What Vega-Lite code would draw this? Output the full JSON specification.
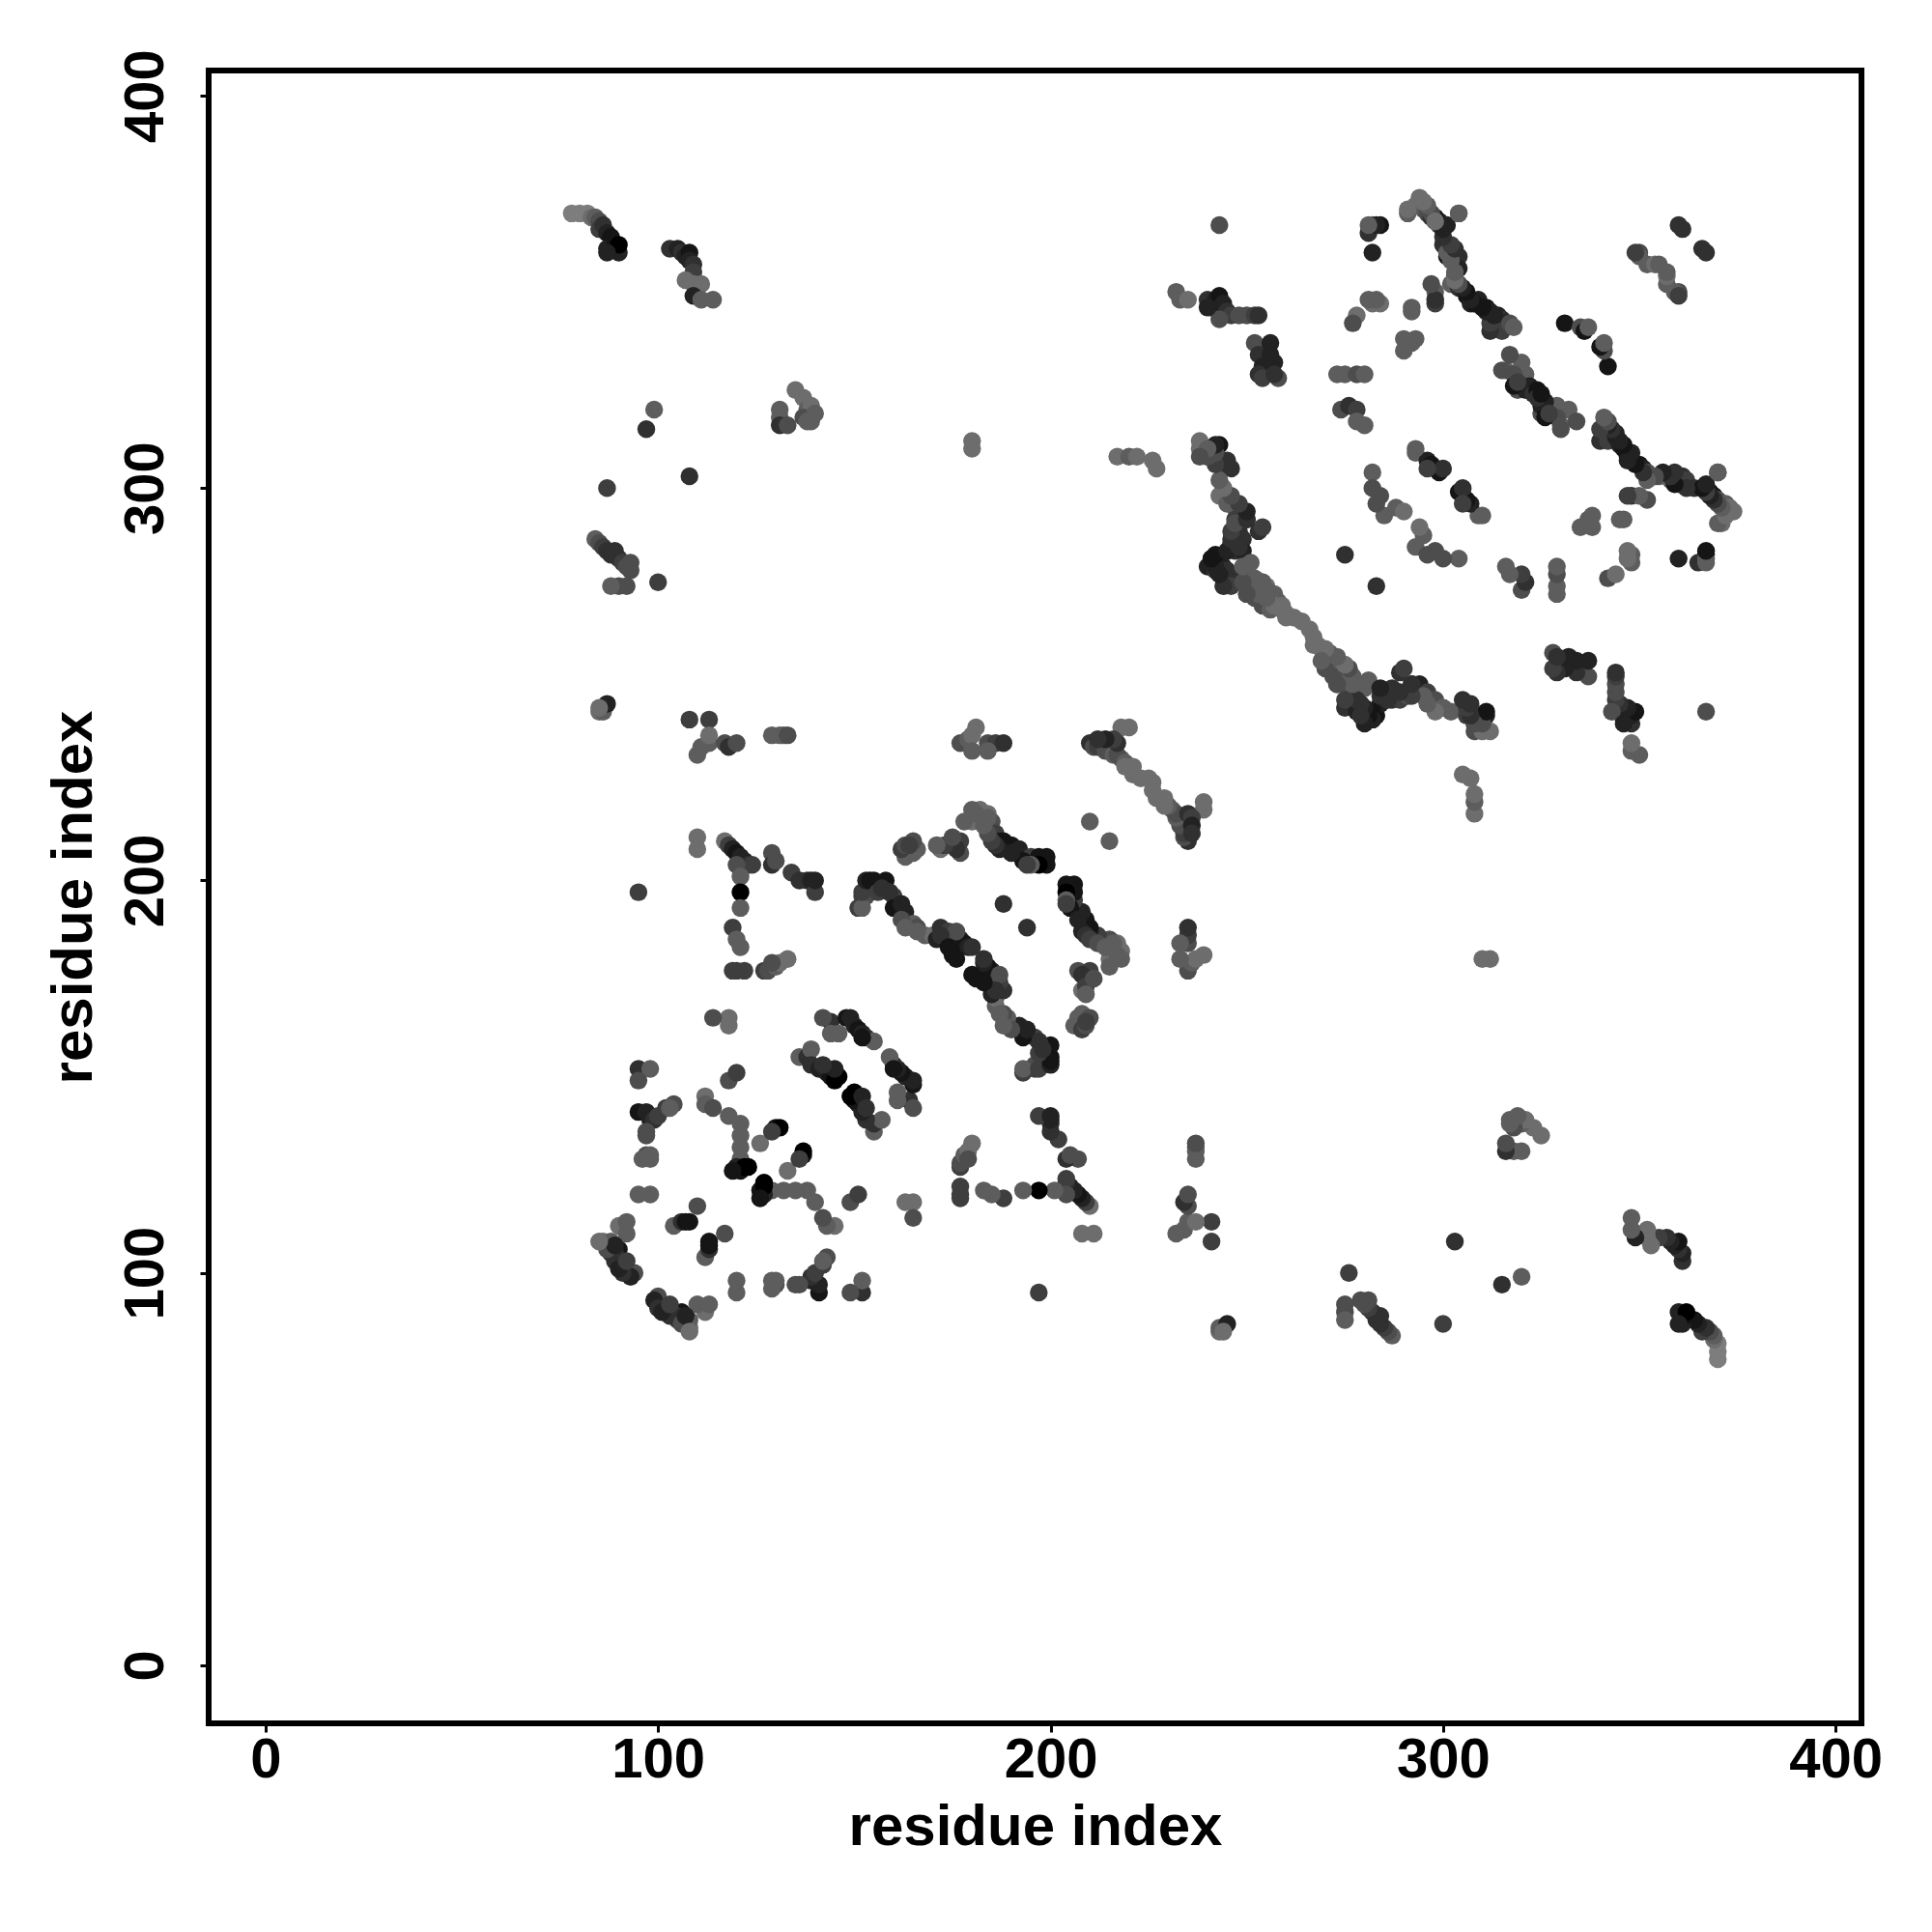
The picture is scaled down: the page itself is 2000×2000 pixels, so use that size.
{"$schema":"https://vega.github.io/schema/vega-lite/v6.json","autosize":{"type":"none"},"padding":{"left":216,"top":73,"right":73,"bottom":216},"width":1711,"height":1711,"background":"white","config":{"view":{"stroke":"#000","strokeWidth":6},"font":"Liberation Sans"},
"data":{"values":[
{"a":78,"b":370,"s":8},{"a":80,"b":370,"s":8},{"a":82,"b":370,"s":8},{"a":83,"b":369,"s":7},{"a":84,"b":369,"s":6},{"a":85,"b":368,"s":5},{"a":85,"b":366,"s":4},{"a":86,"b":367,"s":3},{"a":87,"b":365,"s":2},{"a":88,"b":364,"s":1},{"a":87,"b":361,"s":2},{"a":89,"b":362,"s":1},{"a":90,"b":360,"s":2},{"a":90,"b":362,"s":0},{"a":87,"b":360,"s":2},
{"a":103,"b":361,"s":3},{"a":105,"b":361,"s":2},{"a":106,"b":360,"s":3},{"a":107,"b":359,"s":2},{"a":108,"b":360,"s":1},{"a":108,"b":358,"s":2},{"a":109,"b":357,"s":3},{"a":109,"b":355,"s":4},{"a":107,"b":353,"s":7},{"a":109,"b":352,"s":7},{"a":111,"b":352,"s":7},{"a":109,"b":349,"s":2},{"a":111,"b":348,"s":6},{"a":114,"b":348,"s":6},
{"a":97,"b":315,"s":3},{"a":99,"b":320,"s":6},{"a":108,"b":303,"s":3},
{"a":131,"b":320,"s":6},{"a":131,"b":318,"s":6},{"a":131,"b":316,"s":3},{"a":133,"b":316,"s":5},{"a":135,"b":325,"s":7},{"a":137,"b":323,"s":7},{"a":138,"b":320,"s":6},{"a":139,"b":321,"s":7},{"a":137,"b":318,"s":5},{"a":139,"b":317,"s":6},{"a":140,"b":319,"s":6},{"a":138,"b":317,"s":6},
{"a":180,"b":310,"s":7},{"a":180,"b":312,"s":7},{"a":217,"b":308,"s":7},{"a":220,"b":308,"s":6},{"a":222,"b":308,"s":7},{"a":226,"b":307,"s":7},{"a":227,"b":305,"s":7},{"a":87,"b":300,"s":4},
{"a":84,"b":287,"s":6},{"a":85,"b":286,"s":5},{"a":86,"b":285,"s":4},{"a":87,"b":284,"s":3},{"a":88,"b":283,"s":3},{"a":89,"b":284,"s":3},{"a":90,"b":282,"s":3},{"a":91,"b":281,"s":4},{"a":92,"b":280,"s":5},{"a":93,"b":281,"s":5},{"a":93,"b":279,"s":5},{"a":90,"b":275,"s":5},{"a":92,"b":275,"s":5},{"a":88,"b":275,"s":6},{"a":100,"b":276,"s":4},
{"a":85,"b":243,"s":7},{"a":86,"b":243,"s":6},{"a":87,"b":245,"s":2},{"a":85,"b":244,"s":7},
{"a":108,"b":241,"s":4},{"a":113,"b":241,"s":4},{"a":110,"b":232,"s":6},{"a":111,"b":234,"s":6},{"a":113,"b":235,"s":6},{"a":113,"b":237,"s":7},{"a":117,"b":235,"s":5},{"a":118,"b":234,"s":3},{"a":120,"b":235,"s":5},
{"a":129,"b":237,"s":6},{"a":131,"b":237,"s":6},{"a":132,"b":237,"s":6},{"a":133,"b":237,"s":5},
{"a":177,"b":235,"s":5},{"a":179,"b":236,"s":6},{"a":180,"b":237,"s":7},{"a":181,"b":239,"s":7},{"a":180,"b":233,"s":6},{"a":184,"b":235,"s":5},{"a":186,"b":235,"s":4},{"a":188,"b":235,"s":3},{"a":184,"b":233,"s":6},
{"a":210,"b":235,"s":3},{"a":211,"b":234,"s":5},{"a":212,"b":234,"s":4},{"a":214,"b":233,"s":5},{"a":216,"b":232,"s":6},{"a":218,"b":231,"s":6},{"a":218,"b":239,"s":7},{"a":220,"b":239,"s":7},{"a":217,"b":232,"s":5},{"a":219,"b":230,"s":6},{"a":220,"b":229,"s":6},{"a":221,"b":227,"s":7},{"a":223,"b":226,"s":7},{"a":225,"b":226,"s":7},{"a":217,"b":235,"s":3},{"a":216,"b":236,"s":4},{"a":214,"b":236,"s":2},{"a":212,"b":236,"s":3},{"a":219,"b":229,"s":7},{"a":221,"b":229,"s":7},
{"a":110,"b":211,"s":7},{"a":110,"b":208,"s":7},
{"a":117,"b":210,"s":7},{"a":118,"b":209,"s":4},{"a":119,"b":208,"s":2},{"a":120,"b":207,"s":1},{"a":121,"b":206,"s":2},{"a":122,"b":205,"s":2},{"a":123,"b":204,"s":3},{"a":124,"b":204,"s":4},{"a":120,"b":204,"s":5},{"a":121,"b":201,"s":6},
{"a":129,"b":207,"s":5},{"a":129,"b":204,"s":3},{"a":130,"b":205,"s":5},{"a":134,"b":202,"s":4},{"a":136,"b":200,"s":3},{"a":138,"b":200,"s":3},{"a":139,"b":200,"s":2},{"a":140,"b":197,"s":4},{"a":140,"b":200,"s":2},
{"a":121,"b":197,"s":0},{"a":95,"b":197,"s":4},{"a":121,"b":193,"s":6},{"a":119,"b":188,"s":4},{"a":120,"b":185,"s":6},{"a":120,"b":177,"s":4},{"a":122,"b":177,"s":4},{"a":119,"b":177,"s":4},{"a":121,"b":183,"s":6},
{"a":127,"b":177,"s":4},{"a":128,"b":177,"s":5},{"a":130,"b":178,"s":6},{"a":131,"b":179,"s":7},{"a":133,"b":180,"s":7},{"a":129,"b":179,"s":5},
{"a":151,"b":193,"s":4},{"a":152,"b":196,"s":4},{"a":155,"b":200,"s":1},{"a":158,"b":200,"s":1},{"a":153,"b":196,"s":5},{"a":160,"b":196,"s":4},{"a":162,"b":193,"s":2},{"a":163,"b":192,"s":2},{"a":165,"b":189,"s":6},{"a":166,"b":188,"s":5},{"a":168,"b":186,"s":6},{"a":170,"b":186,"s":7},{"a":159,"b":197,"s":6},
{"a":172,"b":188,"s":3},{"a":174,"b":187,"s":4},{"a":176,"b":186,"s":4},{"a":177,"b":185,"s":2},{"a":178,"b":184,"s":1},{"a":179,"b":183,"s":2},{"a":180,"b":183,"s":3},{"a":176,"b":187,"s":5},
{"a":152,"b":193,"s":6},{"a":152,"b":197,"s":4},{"a":153,"b":200,"s":2},{"a":154,"b":200,"s":1},{"a":156,"b":197,"s":4},{"a":157,"b":198,"s":3},{"a":159,"b":197,"s":3},{"a":160,"b":193,"s":1},{"a":162,"b":194,"s":2},{"a":162,"b":190,"s":5},{"a":163,"b":188,"s":6},{"a":166,"b":187,"s":6},{"a":171,"b":185,"s":2},{"a":172,"b":186,"s":3},{"a":174,"b":183,"s":1},{"a":175,"b":181,"s":1},{"a":176,"b":180,"s":1},
{"a":163,"b":206,"s":6},{"a":165,"b":207,"s":6},{"a":166,"b":208,"s":6},{"a":172,"b":208,"s":7},{"a":175,"b":209,"s":6},{"a":177,"b":207,"s":5},{"a":177,"b":210,"s":4},
{"a":162,"b":208,"s":4},{"a":163,"b":209,"s":5},{"a":165,"b":210,"s":5},{"a":164,"b":209,"s":4},{"a":176,"b":208,"s":3},{"a":173,"b":209,"s":4},{"a":171,"b":209,"s":6},{"a":175,"b":211,"s":5},
{"a":180,"b":215,"s":7},{"a":182,"b":218,"s":7},{"a":184,"b":217,"s":7},{"a":185,"b":215,"s":5},{"a":186,"b":212,"s":4},{"a":187,"b":210,"s":2},{"a":188,"b":210,"s":1},{"a":190,"b":209,"s":1},{"a":192,"b":208,"s":2},{"a":195,"b":206,"s":4},{"a":197,"b":206,"s":1},{"a":199,"b":206,"s":1},{"a":199,"b":204,"s":1},{"a":197,"b":204,"s":0},{"a":193,"b":205,"s":1},{"a":195,"b":204,"s":6},{"a":194,"b":204,"s":4},{"a":190,"b":207,"s":2},{"a":187,"b":208,"s":2},{"a":186,"b":209,"s":3},{"a":185,"b":210,"s":4},{"a":184,"b":212,"s":5},{"a":183,"b":214,"s":6},{"a":184,"b":216,"s":6},{"a":181,"b":217,"s":6},{"a":180,"b":218,"s":6},{"a":178,"b":215,"s":6},
{"a":188,"b":194,"s":3},{"a":210,"b":215,"s":6},
{"a":144,"b":164,"s":3},{"a":144,"b":161,"s":6},{"a":142,"b":165,"s":5},{"a":146,"b":161,"s":6},{"a":148,"b":165,"s":1},{"a":149,"b":165,"s":2},{"a":150,"b":163,"s":2},{"a":151,"b":162,"s":1},{"a":152,"b":161,"s":2},{"a":153,"b":160,"s":3},{"a":155,"b":159,"s":6},{"a":152,"b":160,"s":1},
{"a":136,"b":155,"s":6},{"a":138,"b":155,"s":3},{"a":139,"b":157,"s":6},{"a":139,"b":153,"s":3},{"a":141,"b":152,"s":2},{"a":143,"b":151,"s":2},{"a":144,"b":150,"s":1},{"a":145,"b":149,"s":0},{"a":146,"b":150,"s":0},{"a":145,"b":152,"s":2},{"a":142,"b":153,"s":3},
{"a":95,"b":152,"s":3},{"a":98,"b":152,"s":6},{"a":95,"b":149,"s":5},{"a":95,"b":141,"s":1},{"a":97,"b":141,"s":2},{"a":98,"b":139,"s":2},{"a":99,"b":139,"s":3},{"a":100,"b":140,"s":4},{"a":102,"b":142,"s":4},{"a":104,"b":143,"s":5},{"a":103,"b":142,"s":6},{"a":97,"b":136,"s":5},{"a":97,"b":135,"s":5},{"a":97,"b":130,"s":5},{"a":98,"b":130,"s":6},{"a":96,"b":129,"s":6},{"a":98,"b":129,"s":6},{"a":95,"b":120,"s":6},{"a":98,"b":120,"s":6},
{"a":112,"b":145,"s":7},{"a":112,"b":143,"s":6},{"a":114,"b":142,"s":5},{"a":118,"b":149,"s":5},{"a":120,"b":151,"s":4},{"a":118,"b":140,"s":6},{"a":121,"b":138,"s":6},{"a":121,"b":135,"s":6},{"a":121,"b":132,"s":6},{"a":121,"b":129,"s":6},{"a":120,"b":127,"s":2},{"a":121,"b":126,"s":1},{"a":122,"b":127,"s":0},{"a":123,"b":127,"s":0},{"a":119,"b":126,"s":1},
{"a":126,"b":133,"s":7},{"a":130,"b":137,"s":1},{"a":131,"b":137,"s":0},{"a":129,"b":136,"s":4},
{"a":163,"b":118,"s":7},{"a":165,"b":118,"s":7},{"a":165,"b":114,"s":5},
{"a":86,"b":108,"s":7},{"a":88,"b":108,"s":6},{"a":90,"b":106,"s":1},{"a":90,"b":103,"s":1},{"a":91,"b":102,"s":2},{"a":92,"b":101,"s":2},{"a":93,"b":100,"s":3},{"a":94,"b":100,"s":5},{"a":89,"b":103,"s":3},{"a":89,"b":105,"s":3},
{"a":90,"b":112,"s":7},{"a":92,"b":113,"s":6},{"a":92,"b":110,"s":6},
{"a":93,"b":99,"s":2},{"a":91,"b":100,"s":3},{"a":90,"b":101,"s":2},{"a":92,"b":103,"s":4},{"a":88,"b":105,"s":3},{"a":87,"b":106,"s":5},{"a":89,"b":107,"s":2},{"a":85,"b":108,"s":7},
{"a":104,"b":112,"s":6},{"a":106,"b":113,"s":3},{"a":107,"b":113,"s":1},{"a":108,"b":113,"s":1},{"a":110,"b":117,"s":5},
{"a":232,"b":350,"s":6},{"a":233,"b":348,"s":6},{"a":235,"b":348,"s":7},{"a":240,"b":348,"s":3},{"a":241,"b":346,"s":2},{"a":242,"b":348,"s":2},{"a":243,"b":349,"s":1},{"a":244,"b":347,"s":2},{"a":245,"b":345,"s":3},{"a":246,"b":344,"s":4},{"a":243,"b":343,"s":5},{"a":248,"b":344,"s":5},{"a":250,"b":344,"s":5},{"a":252,"b":344,"s":4},{"a":253,"b":344,"s":3},{"a":240,"b":346,"s":2},
{"a":252,"b":337,"s":5},{"a":253,"b":334,"s":3},{"a":256,"b":337,"s":2},{"a":256,"b":334,"s":2},{"a":254,"b":331,"s":2},{"a":257,"b":332,"s":2},{"a":253,"b":329,"s":3},{"a":254,"b":328,"s":4},{"a":258,"b":328,"s":5},{"a":257,"b":329,"s":3},
{"a":243,"b":367,"s":5},{"a":273,"b":329,"s":6},{"a":275,"b":329,"s":6},{"a":278,"b":329,"s":5},{"a":280,"b":329,"s":6},{"a":274,"b":320,"s":5},{"a":276,"b":321,"s":3},{"a":278,"b":320,"s":4},{"a":278,"b":317,"s":6},{"a":280,"b":316,"s":6},
{"a":278,"b":344,"s":7},{"a":282,"b":347,"s":7},{"a":284,"b":347,"s":7},{"a":282,"b":367,"s":6},{"a":284,"b":367,"s":1},{"a":282,"b":360,"s":2},{"a":290,"b":338,"s":6},{"a":293,"b":338,"s":6},{"a":292,"b":345,"s":6},{"a":298,"b":350,"s":6},{"a":298,"b":347,"s":4},
{"a":291,"b":370,"s":6},{"a":293,"b":372,"s":7},{"a":295,"b":371,"s":6},{"a":296,"b":370,"s":5},{"a":297,"b":369,"s":3},{"a":298,"b":368,"s":2},{"a":299,"b":367,"s":4},{"a":300,"b":366,"s":1},{"a":301,"b":367,"s":2},{"a":304,"b":370,"s":6},{"a":300,"b":362,"s":3},{"a":301,"b":359,"s":1},{"a":303,"b":358,"s":3},{"a":304,"b":359,"s":3},{"a":304,"b":356,"s":2},{"a":303,"b":354,"s":5},{"a":302,"b":352,"s":6},{"a":304,"b":351,"s":3},{"a":306,"b":349,"s":1},{"a":307,"b":347,"s":2},{"a":309,"b":348,"s":2},{"a":311,"b":346,"s":1},{"a":312,"b":345,"s":2},{"a":314,"b":344,"s":2},{"a":315,"b":343,"s":3},{"a":316,"b":342,"s":2},{"a":315,"b":340,"s":4},{"a":317,"b":342,"s":5},{"a":318,"b":341,"s":6},
{"a":316,"b":330,"s":6},{"a":320,"b":332,"s":6},{"a":321,"b":329,"s":6},{"a":319,"b":325,"s":5},{"a":321,"b":325,"s":2},{"a":322,"b":326,"s":2},{"a":323,"b":324,"s":3},{"a":324,"b":325,"s":1},{"a":318,"b":329,"s":5},{"a":318,"b":326,"s":1},{"a":319,"b":327,"s":4},{"a":315,"b":330,"s":5},{"a":317,"b":334,"s":5},
{"a":331,"b":342,"s":1},{"a":335,"b":341,"s":5},{"a":336,"b":340,"s":1},{"a":337,"b":341,"s":6},
{"a":340,"b":312,"s":3},{"a":342,"b":312,"s":4},{"a":344,"b":313,"s":2},{"a":345,"b":311,"s":2},{"a":346,"b":310,"s":1},{"a":347,"b":308,"s":1},{"a":348,"b":307,"s":2},{"a":350,"b":306,"s":1},{"a":351,"b":305,"s":2},{"a":352,"b":304,"s":5},{"a":353,"b":303,"s":7},{"a":355,"b":303,"s":6},{"a":358,"b":302,"s":6},{"a":360,"b":301,"s":6},{"a":361,"b":303,"s":3},{"a":362,"b":302,"s":4},{"a":364,"b":300,"s":3},{"a":366,"b":300,"s":2},{"a":368,"b":299,"s":2},{"a":369,"b":298,"s":1},{"a":370,"b":297,"s":5},{"a":372,"b":296,"s":6},{"a":373,"b":295,"s":7},{"a":374,"b":294,"s":7},{"a":371,"b":291,"s":7},{"a":370,"b":304,"s":6},{"a":368,"b":298,"s":7},
{"a":348,"b":298,"s":3},{"a":352,"b":297,"s":5},{"a":365,"b":281,"s":3},{"a":367,"b":283,"s":2},{"a":367,"b":281,"s":6},{"a":348,"b":283,"s":6},{"a":348,"b":281,"s":6},{"a":342,"b":277,"s":5},{"a":335,"b":290,"s":6},{"a":337,"b":292,"s":6},{"a":346,"b":292,"s":6},
{"a":282,"b":304,"s":6},{"a":282,"b":300,"s":5},{"a":284,"b":298,"s":5},{"a":285,"b":293,"s":6},{"a":288,"b":295,"s":6},{"a":290,"b":294,"s":7},{"a":283,"b":296,"s":5},
{"a":293,"b":309,"s":6},{"a":296,"b":307,"s":2},{"a":297,"b":306,"s":1},{"a":298,"b":305,"s":1},{"a":299,"b":304,"s":1},{"a":300,"b":305,"s":3},{"a":296,"b":305,"s":4},{"a":293,"b":310,"s":6},{"a":275,"b":283,"s":3},
{"a":361,"b":366,"s":3},{"a":360,"b":367,"s":3},{"a":350,"b":360,"s":5},{"a":350,"b":359,"s":6},{"a":352,"b":357,"s":6},{"a":354,"b":357,"s":7},{"a":355,"b":357,"s":6},{"a":349,"b":360,"s":4},
{"a":238,"b":310,"s":7},{"a":240,"b":310,"s":5},{"a":243,"b":311,"s":1},{"a":240,"b":308,"s":5},{"a":242,"b":307,"s":3},{"a":244,"b":306,"s":4},{"a":246,"b":305,"s":3},{"a":245,"b":307,"s":3},{"a":244,"b":300,"s":6},{"a":243,"b":298,"s":7},{"a":245,"b":296,"s":6},{"a":247,"b":295,"s":6},{"a":247,"b":292,"s":4},{"a":250,"b":292,"s":3},{"a":253,"b":289,"s":3},{"a":254,"b":290,"s":4},{"a":248,"b":289,"s":3},{"a":249,"b":287,"s":3},{"a":246,"b":286,"s":3},{"a":247,"b":284,"s":3},{"a":249,"b":284,"s":2},{"a":243,"b":282,"s":1},{"a":241,"b":282,"s":2},{"a":242,"b":281,"s":1},{"a":244,"b":280,"s":2},{"a":245,"b":279,"s":3},{"a":246,"b":278,"s":3},{"a":246,"b":275,"s":4},{"a":240,"b":280,"s":2},{"a":242,"b":279,"s":3},
{"a":250,"b":277,"s":6},{"a":252,"b":276,"s":6},{"a":254,"b":276,"s":5},{"a":250,"b":273,"s":5},{"a":252,"b":272,"s":5},{"a":254,"b":270,"s":5},{"a":255,"b":275,"s":7},{"a":257,"b":273,"s":6},{"a":258,"b":271,"s":6},{"a":259,"b":270,"s":7},{"a":260,"b":268,"s":7},{"a":262,"b":267,"s":7},{"a":264,"b":266,"s":7},{"a":256,"b":269,"s":6},
{"a":267,"b":260,"s":7},{"a":269,"b":259,"s":7},{"a":270,"b":257,"s":7},{"a":272,"b":255,"s":6},{"a":273,"b":253,"s":6},{"a":274,"b":255,"s":6},{"a":275,"b":251,"s":6},{"a":276,"b":254,"s":6},{"a":277,"b":252,"s":6},{"a":273,"b":250,"s":5},{"a":276,"b":249,"s":5},{"a":280,"b":249,"s":6},{"a":281,"b":251,"s":6},
{"a":275,"b":244,"s":3},{"a":278,"b":243,"s":2},{"a":280,"b":242,"s":2},{"a":282,"b":241,"s":1},{"a":283,"b":242,"s":1},{"a":284,"b":245,"s":2},{"a":285,"b":248,"s":3},{"a":287,"b":246,"s":3},{"a":289,"b":246,"s":4},{"a":291,"b":247,"s":5},{"a":292,"b":250,"s":3},{"a":294,"b":250,"s":2},{"a":296,"b":248,"s":4},{"a":298,"b":246,"s":5},{"a":300,"b":244,"s":7},{"a":302,"b":243,"s":6},{"a":306,"b":242,"s":4},{"a":308,"b":240,"s":5},{"a":309,"b":242,"s":5},{"a":311,"b":242,"s":2},{"a":312,"b":238,"s":7},{"a":310,"b":240,"s":6},{"a":308,"b":238,"s":5}
]},
"layer":[
{"mark":{"type":"point","filled":true,"opacity":1,"size":340},"encoding":{
"x":{"field":"a","type":"quantitative","scale":{"domain":[-14.5,406.6],"nice":false,"zero":false},"axis":{"title":"residue index","values":[0,100,200,300,400],"grid":false,"domain":false,"tickColor":"#000","tickWidth":3,"tickSize":9,"labelFont":"Liberation Sans","labelFontWeight":"bold","labelFontSize":58,"labelColor":"#000","labelPadding":0,"labelFlush":false,"labelOverlap":false,"titleFont":"Liberation Sans","titleFontWeight":"bold","titleFontSize":60,"titleColor":"#000","titlePadding":11}},
"y":{"field":"b","type":"quantitative","scale":{"domain":[-14.8,406.4],"nice":false,"zero":false},"axis":{"title":"residue index","values":[0,100,200,300,400],"grid":false,"domain":false,"tickColor":"#000","tickWidth":3,"tickSize":9,"labelFont":"Liberation Sans","labelFontWeight":"bold","labelFontSize":58,"labelColor":"#000","labelAngle":-90,"labelAlign":"center","labelBaseline":"alphabetic","labelPadding":39,"labelOverlap":false,"labelFlush":false,"titleFont":"Liberation Sans","titleFontWeight":"bold","titleFontSize":60,"titleColor":"#000","titlePadding":15}},
"color":{"field":"s","type":"quantitative","scale":{"domain":[0,8],"range":["#000000","#7d7d7d"]},"legend":null}}},
{"mark":{"type":"point","filled":true,"opacity":1,"size":340},"encoding":{
"x":{"field":"b","type":"quantitative","scale":{"domain":[-14.5,406.6],"nice":false,"zero":false},"axis":{"title":"residue index","values":[0,100,200,300,400],"grid":false,"domain":false,"tickColor":"#000","tickWidth":3,"tickSize":9,"labelFont":"Liberation Sans","labelFontWeight":"bold","labelFontSize":58,"labelColor":"#000","labelPadding":0,"labelFlush":false,"labelOverlap":false,"titleFont":"Liberation Sans","titleFontWeight":"bold","titleFontSize":60,"titleColor":"#000","titlePadding":11}},
"y":{"field":"a","type":"quantitative","scale":{"domain":[-14.8,406.4],"nice":false,"zero":false},"axis":{"title":"residue index","values":[0,100,200,300,400],"grid":false,"domain":false,"tickColor":"#000","tickWidth":3,"tickSize":9,"labelFont":"Liberation Sans","labelFontWeight":"bold","labelFontSize":58,"labelColor":"#000","labelAngle":-90,"labelAlign":"center","labelBaseline":"alphabetic","labelPadding":39,"labelOverlap":false,"labelFlush":false,"titleFont":"Liberation Sans","titleFontWeight":"bold","titleFontSize":60,"titleColor":"#000","titlePadding":15}},
"color":{"field":"s","type":"quantitative","scale":{"domain":[0,8],"range":["#000000","#7d7d7d"]},"legend":null}}}
]}
